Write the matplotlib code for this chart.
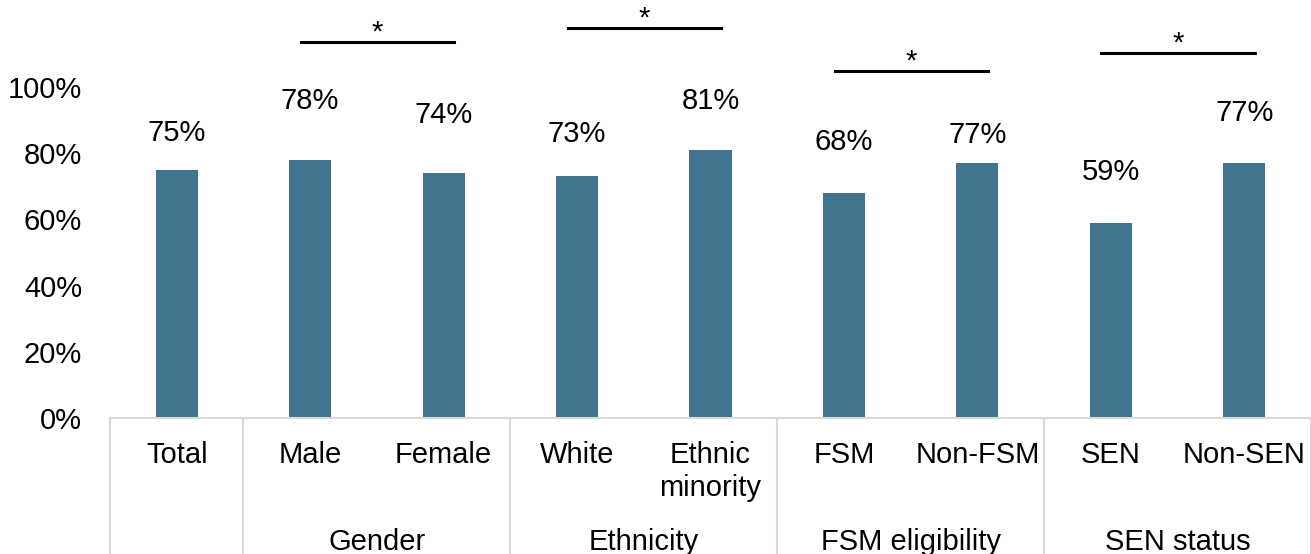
import matplotlib
matplotlib.use("Agg")
import matplotlib.pyplot as plt

# data
categories = ["Total", "Male", "Female", "White", "Ethnic\nminority",
              "FSM", "Non-FSM", "SEN", "Non-SEN"]
values = [0.75, 0.78, 0.74, 0.73, 0.81, 0.68, 0.77, 0.59, 0.77]
groups = ["", "Gender", "Ethnicity", "FSM eligibility", "SEN status"]
group_spans = [(0, 0), (1, 2), (3, 4), (5, 6), (7, 8)]
sig_pairs = [(1, 2), (3, 4), (5, 6), (7, 8)]
ytick_vals = [0, 0.2, 0.4, 0.6, 0.8, 1.0]

# layout (manually placed labels as in the original)
label_y = [0.860, 0.958, 0.915, 0.858, 0.958, 0.834, 0.855, 0.743, 0.921]
sig_y = [1.136, 1.178, 1.048, 1.103]

plt.rcParams['font.family'] = ['Liberation Sans', 'DejaVu Sans']
FS = 21
BAR = '#42738F'
GRID = '#D9D9D9'

W, H = 1311, 554
fig = plt.figure(figsize=(W / 100, H / 100), dpi=100)
ax = fig.add_axes([110 / W, (H - 418) / H, 1 - 110 / W, 418 / H])

x = list(range(len(values)))
ax.bar(x, values, width=0.315, color=BAR, zorder=2)

ax.set_xlim(-0.5, 8.5)
ax.set_ylim(0, 418 / 331)
ax.set_yticks(ytick_vals)
ax.set_yticklabels([f"{int(round(v * 100))}%" for v in ytick_vals], fontsize=FS)
ax.tick_params(axis='y', length=0, pad=20)
ax.set_xticks([])
for s in ['top', 'right', 'left']:
    ax.spines[s].set_visible(False)
ax.spines['bottom'].set_color(GRID)
ax.spines['bottom'].set_linewidth(1.5)

# value labels
for xi, v, ly in zip(x, values, label_y):
    ax.text(xi, ly, f"{int(round(v * 100))}%", ha='center', va='center', fontsize=FS)

# significance bars
for (a, b), sy in zip(sig_pairs, sig_y):
    ax.plot([a - 0.07, b + 0.08], [sy, sy], color='black', lw=2.2, clip_on=False)
    ax.text((a + b) / 2 + 0.005, sy + 0.028, "*", ha='center', va='center', fontsize=21)

# category labels
bottom = -(H - 418) / 331
for xi, c in zip(x, categories):
    ax.text(xi, -0.070, c, ha='center', va='top', fontsize=FS, linespacing=1.2,
            clip_on=False)

# group labels and separators
for (a, b), g in zip(group_spans, groups):
    if g:
        ax.text((a + b) / 2, -0.376, g, ha='center', va='center', fontsize=FS,
                clip_on=False)
for sx in [-0.5, 0.5, 2.5, 4.5, 6.5, 8.5]:
    ax.plot([sx, sx], [0, bottom], color=GRID, lw=1.5, clip_on=False)

fig.savefig("out.png", dpi=100)
